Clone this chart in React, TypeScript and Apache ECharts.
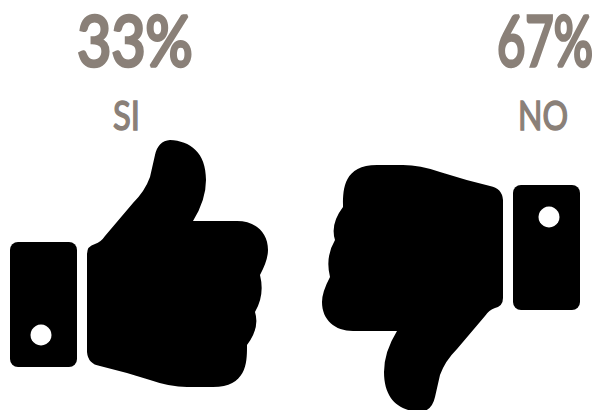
import React, { useEffect, useRef } from "react";
import * as echarts from "echarts";

const categories = ["SI", "NO"];
const percentages = [33, 67];

const handPath =
  "M87 254 Q87 246 95 244 Q101 242 105 236 L133 203 Q145 191 150 177 L155 155 Q158 141 170 140 C190 141 206 152 206 180 Q206 200 193 221 L237 221 C255 221 268 232 268 250 Q268 260 260 275 Q265 295 255 312 Q260 328 247 345 C247 360 248 387 213 387 L187 387 Q170 387 150 380 Q125 372 100 366 Q88 364 87 352 Z";

echarts.graphic.registerShape("hand", echarts.graphic.extendPath(handPath, {}) as any);

const TEXT = "#8a8078";
const FONT = "Lato";

function icon(flip: boolean) {
  const t = flip ? { x: 590, y: 552, scaleX: -1, scaleY: -1 } : { x: 0, y: 0, scaleX: 1, scaleY: 1 };
  return {
    type: "group",
    ...t,
    children: [
      { type: "hand", style: { fill: "#000" } },
      { type: "rect", shape: { x: 10, y: 242, width: 67, height: 125, r: 8 }, style: { fill: "#000" } },
      { type: "circle", shape: { cx: 41, cy: 335, r: 10.5 }, style: { fill: "#fff" } },
    ],
  };
}

function label(text: string, cx: number, cy: number, size: number, sx: number, border: number) {
  return {
    type: "text",
    x: cx,
    y: cy,
    scaleX: sx,
    style: {
      text,
      fill: TEXT,
      fontFamily: FONT,
      fontSize: size,
      fontWeight: 400,
      align: "center",
      verticalAlign: "middle",
      stroke: TEXT,
      lineWidth: border,
      lineJoin: "round",
    },
  };
}

export default function App() {
  const ref = useRef<HTMLDivElement>(null);
  useEffect(() => {
    const chart = echarts.init(ref.current!, undefined, { renderer: "svg" });
    chart.setOption({
      animation: false,
      backgroundColor: "#fff",
      graphic: {
        elements: [
          icon(false),
          icon(true),
          label(percentages[0] + "%", 135, 39, 70, 0.84, 3.5),
          label(percentages[1] + "%", 545, 39, 70, 0.7, 3.5),
          label(categories[0], 126.5, 114, 41, 0.8, 1.5),
          label(categories[1], 543, 114, 41, 0.78, 1.5),
        ],
      },
    });
    return () => chart.dispose();
  }, []);
  return <div ref={ref} style={{ position: "absolute", left: 0, top: 0, width: 595, height: 410 }} />;
}
